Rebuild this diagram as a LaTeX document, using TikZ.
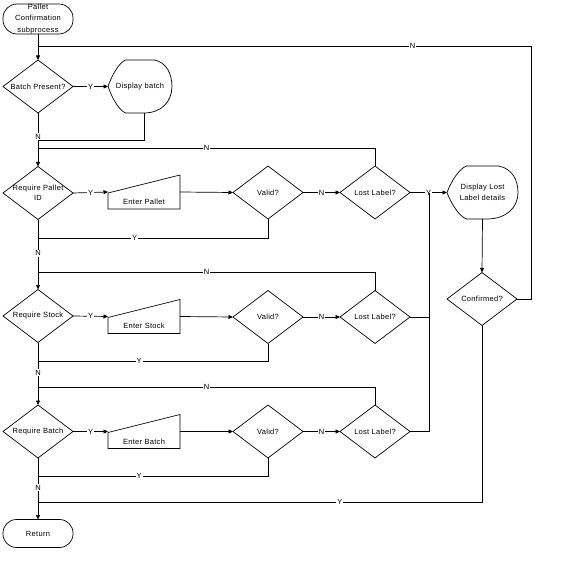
\documentclass[tikz,border=0pt]{standalone}
\usepackage{fontspec}
\setmainfont{Liberation Sans}[LetterSpace=4]
\usetikzlibrary{shapes.geometric,arrows.meta}
\tikzset{
  x=1pt, y=-1pt,
  base/.style={font=\fontsize{7.5}{10.5}\selectfont},
  every label/.style={base, align=center, inner sep=0pt},
  dia/.style={diamond, draw, line width=0.7pt, minimum width=70pt, minimum height=53pt, inner sep=0pt, outer sep=0pt, aspect=1.32},
  term/.style={rectangle, draw, line width=0.7pt, rounded corners=13.5pt, minimum width=70pt, minimum height=28pt, inner sep=0pt, outer sep=0pt},
  holder/.style={rectangle, inner sep=0pt, outer sep=0pt},
  conn/.style={line width=0.7pt},
  arr/.style={conn, -{Triangle[length=4.5pt,width=4pt]}},
  lab/.style={base, fill=white, inner sep=1pt},
}
\newcommand\dispoutline[2]{%
  \draw[line width=0.7pt, shift={(#1.center)}, xscale=#2]
    (-16,-26.5) -- (16,-26.5) .. controls (30,-24) and (35.5,-12) .. (35.5,0)
    .. controls (35.5,15) and (24,26.5) .. (4,26.5) -- (-16,26.5)
    .. controls (-23,24) and (-31,12) .. (-35.5,0)
    .. controls (-31,-12) and (-23,-24) .. (-16,-26.5) -- cycle;}
\newcommand\manualoutline[1]{%
  \draw[line width=0.7pt, shift={(#1.center)}]
    (-36,17) -- (-36,1) -- (36,-17) -- (36,17) -- cycle;}
\begin{document}
\begin{tikzpicture}
\useasboundingbox (0,0) rectangle (563,572);
% terminals
\node[term, minimum height=30pt, rounded corners=14pt,
  label={[font=\fontsize{7.5}{11.5}\selectfont]center:Pallet\\Confirmation\\subprocess}] (start) at (38,19) {};
\node[term, label={center:Return}] (ret) at (38,533.5) {};
% decisions
\node[dia, label={center:Batch Present?}] (bp) at (38,86.5) {};
\node[dia, label={center:Require Pallet\\ID}] (rp) at (38,193) {};
\node[dia, label={center:Require Stock}] (rs) at (38,316) {};
\node[dia, label={center:Require Batch}] (rb) at (38,431.5) {};
\node[dia, label={center:Valid?}] (v1) at (268,192.5) {};
\node[dia, label={center:Valid?}] (v2) at (268,317) {};
\node[dia, label={center:Valid?}] (v3) at (268,431.5) {};
\node[dia, label={center:Lost Label?}] (ll1) at (375,192.5) {};
\node[dia, label={center:Lost Label?}] (ll2) at (375,317) {};
\node[dia, label={center:Lost Label?}] (ll3) at (375,431.5) {};
\node[dia, label={center:Confirmed?}] (cf) at (482,299) {};
% displays
\node[holder, minimum width=64pt, minimum height=53pt, label={center:Display batch}] (db) at (140,86.5) {};
\dispoutline{db}{0.9}
\node[holder, minimum width=71pt, minimum height=53pt, label={center:Display Lost\\Label details}] (dl) at (482.5,192.5) {};
\dispoutline{dl}{1}
% manual inputs
\node[holder, minimum width=72pt, minimum height=34pt, label={[yshift=-9.5pt]center:Enter Pallet}] (ep) at (144,192) {};
\manualoutline{ep}
\node[holder, minimum width=72pt, minimum height=34pt, label={[yshift=-9.5pt]center:Enter Stock}] (es) at (144,316.5) {};
\manualoutline{es}
\node[holder, minimum width=72pt, minimum height=34pt, label={[yshift=-10pt]center:Enter Batch}] (eb) at (144,431.5) {};
\manualoutline{eb}
% junction coordinates
\coordinate (jA) at (38,46);
\coordinate (cR) at (531,46);
\coordinate (dbo) at (144,113);
\coordinate (jB) at (38,140);
\coordinate (jC) at (38,148);
\coordinate (jD) at (38,238);
\coordinate (jE) at (38,272);
\coordinate (jF) at (38,361);
\coordinate (jG) at (38,387);
\coordinate (jH) at (38,476);
\coordinate (jI) at (38,502);
\coordinate (vR) at (429,192.5);
\coordinate (vR2) at (429,317);
% connectors
\draw[arr] (start.south) -- (bp.north);
\draw[arr] (bp.east) -- node[lab]{Y} (db.west);
\draw[arr] (bp.south) -- node[lab,pos=0.45]{N} (rp.north);
\draw[conn] (dbo) |- (jB);
\draw[conn] (ll1.north) |- node[lab,pos=0.75]{N} (jC);
\draw[arr] (rp.east) -- node[lab]{Y} (ep.west);
\draw[arr] (ep.east) -- (v1.west);
\draw[conn] (v1.south) |- node[lab,pos=0.79]{Y} (jD);
\draw[arr] (v1.east) -- node[lab]{N} (ll1.west);
\draw[arr] (ll1.east) -- node[lab]{Y} (dl.west);
\draw[arr] (rp.south) -- node[lab,pos=0.48]{N} (rs.north);
\draw[conn] (ll2.north) |- node[lab,pos=0.75]{N} (jE);
\draw[arr] (rs.east) -- node[lab]{Y} (es.west);
\draw[arr] (es.east) -- (v2.west);
\draw[conn] (v2.south) |- node[lab,pos=0.78]{Y} (jF);
\draw[arr] (v2.east) -- node[lab]{N} (ll2.west);
\draw[conn] (ll2.east) -- (vR2);
\draw[arr] (rs.south) -- node[lab,pos=0.48]{N} (rb.north);
\draw[conn] (ll3.north) |- node[lab,pos=0.75]{N} (jG);
\draw[arr] (rb.east) -- node[lab]{Y} (eb.west);
\draw[arr] (eb.east) -- (v3.west);
\draw[conn] (v3.south) |- node[lab,pos=0.78]{Y} (jH);
\draw[arr] (v3.east) -- node[lab]{N} (ll3.west);
\draw[conn] (ll3.east) -| (vR);
\draw[arr] (rb.south) -- node[lab,pos=0.48]{N} (ret.north);
\draw[arr] (dl.south) -- (cf.north);
\draw[conn] (cf.east) -| (cR) -- node[lab,pos=0.24]{N} (jA);
\draw[conn] (cf.south) |- node[lab,pos=0.66]{Y} (jI);
\end{tikzpicture}
\end{document}
